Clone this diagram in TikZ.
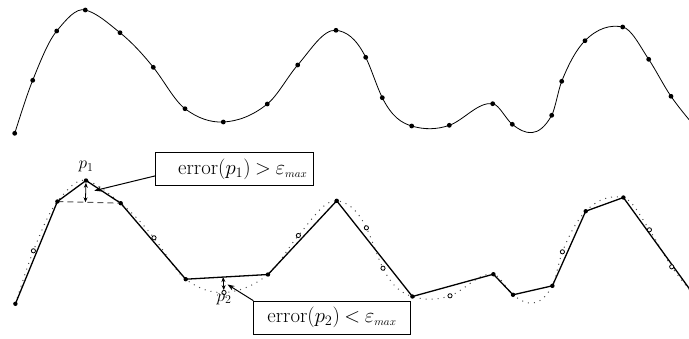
\documentclass[tikz,border=0pt]{standalone}
\usetikzlibrary{arrows.meta,calc,positioning}

% sampled points of the signal (pixel grid, y downwards)
\newcommand{\samples}{14.7/133.3, 32.7/80.3, 56.7/31, 85.3/10, 120/32.7, 153.3/67.3,
  185/108.7, 223.3/122, 267.3/104, 297.7/65, 336/30.3, 365.7/57.3, 382.3/97.7,
  411.7/126, 449.3/125.3, 492.7/103.7, 512.3/124.3, 551.7/115.3, 561.7/81.3,
  585/40.7, 622.7/27, 648.7/59.3, 671/96.3}
% the same points with the slope of the signal there (x/y/slope)
\newcommand{\knots}{14.7/133.3/-3.1, 32.7/80.3/-2.5, 56.7/31/-1.2, 85.3/10/0.25,
  120/32.7/0.8, 153.3/67.3/1.25, 185/108.7/0.75, 223.3/122/-0.05, 267.3/104/-0.8,
  297.7/65/-1.15, 336/30.3/0.1, 365.7/57.3/2.0, 382.3/97.7/2.0, 411.7/126/0.3,
  449.3/125.3/-0.35, 492.7/103.7/0.15, 512.3/124.3/0.8, 551.7/115.3/-1.8,
  561.7/81.3/-2.5, 585/40.7/-1.0, 622.7/27/0.2, 648.7/59.3/1.5, 671/96.3/1.45,
  695/127/1.25}

\tikzset{
  signal/.style={black, line width=0.8pt},
  faint/.style={black!70, line width=1pt, dash pattern=on 1pt off 5pt},
  approx/.style={black, line width=1.3pt, line join=round},
  chord/.style={black!65, line width=1pt, dash pattern=on 6pt off 4pt},
  gap/.style={{Stealth[length=5pt,width=4pt]}-{Stealth[length=5pt,width=4pt]}, line width=0.8pt},
  pointer/.style={-{Stealth[length=7pt,width=5pt]}, line width=1pt},
  errbox/.style={draw, line width=0.7pt, inner xsep=6pt, inner ysep=0pt,
    minimum height=33.4pt, font=\fontsize{21}{24}\selectfont},
  ptlabel/.style={inner sep=0pt, font=\fontsize{18}{21}\selectfont}
}

\begin{document}
\begin{tikzpicture}[x=1pt, y=-1pt]
  \useasboundingbox (0,0) rectangle (689,338);

  % === build the signal as one Hermite curve through the knots ===
  \foreach \x/\y/\m [count=\i, remember=\x as \lastx (initially 0),
      remember=\y as \lasty (initially 0), remember=\m as \lastm (initially 0)] in \knots {
    \ifnum\i=1
      \xdef\curvepath{(\x,\y)}
    \else
      \pgfmathsetmacro\third{(\x-\lastx)/3}
      \pgfmathsetmacro\cax{\lastx+\third}
      \pgfmathsetmacro\cay{\lasty+\third*\lastm}
      \pgfmathsetmacro\cbx{\x-\third}
      \pgfmathsetmacro\cby{\y-\third*\m}
      \xdef\curvepath{\curvepath .. controls (\cax,\cay) and (\cbx,\cby) .. (\x,\y)}
    \fi
  }

  % === upper panel: signal with all samples ===
  \draw[signal] \curvepath;
  \foreach \x/\y in \samples {
    \fill (\x,\y) circle (2.4pt);
  }

  % === lower panel: same signal, shifted down ===
  \draw[faint, shift={(0.7,170.5)}] \curvepath;
  \begin{scope}[shift={(0.7,170.5)}]
    \foreach \x/\y [count=\i] in \samples {
      \coordinate (b\i) at (\x,\y);
    }
    \coordinate (bend) at (695,127);
  \end{scope}

  % polyline through the kept samples
  \draw[approx] (b1) -- (b3) -- (b4) -- (b5) -- (b7) -- (b9) -- (b11) -- (b14)
    -- (b16) -- (b17) -- (b18) -- (b20) -- (b21) -- (bend);
  \draw[chord] (b3) -- (b5);

  % dropped samples (open) and kept samples (filled)
  \foreach \i in {2,6,8,10,12,13,15,19,22,23} {
    \draw[line width=0.8pt, fill=white] (b\i) circle (2.1pt);
  }
  \foreach \i in {1,3,4,5,7,9,11,14,16,17,18,20,21} {
    \fill (b\i) circle (2.2pt);
  }

  % === error distances ===
  \coordinate (f1) at ($(b3)!(b4)!(b5)$);
  \draw[gap, shorten <=2.3pt] (b4) -- (f1);
  \coordinate (f2) at ($(b7)!(b8)!(b9)$);
  \draw[gap, shorten >=2.4pt] (f2) -- (b8);

  \node[ptlabel, above=8pt of b4] (p1) {$p_1$};
  \node[ptlabel, below=1pt of b8] (p2) {$p_2$};

  % === error boxes ===
  \node[errbox, text width=146pt, align=right] (box1) at (234.3,169)
    {$\mathrm{error}(p_1)\mskip4mu{>}\mskip4mu\varepsilon_{\scriptscriptstyle max}$};
  \node[errbox, minimum width=156.6pt] (box2) at (332,317.7)
    {$\mathrm{error}(p_2)\mskip4mu{<}\mskip4mu\varepsilon_{\scriptscriptstyle max}$};

  \coordinate (e1) at (94.3,190.7);
  \coordinate (e2) at (227.5,284.5);
  \draw[pointer] (box1.185) -- (e1);
  \draw[pointer] (box2.north west) -- (e2);
\end{tikzpicture}
\end{document}
